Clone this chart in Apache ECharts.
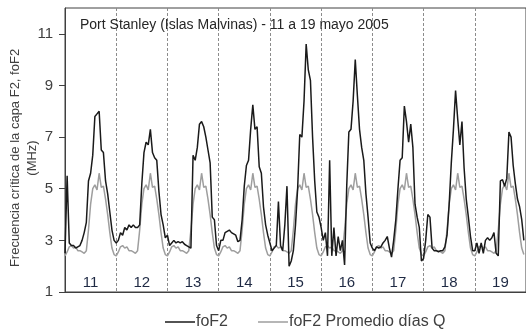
<!DOCTYPE html>
<html>
<head>
<meta charset="utf-8">
<script src="https://cdn.jsdelivr.net/npm/echarts@6/dist/echarts.min.js"></script>
<style>
  html, body { margin: 0; padding: 0; background: #fff; }
  #chart { width: 526px; height: 336px; }
</style>
</head>
<body>
<div id="chart"></div>
<script>
// dias de mayo 2005, un valor por hora (UT)
const dias = ['11', '12', '13', '14', '15', '16', '17', '18', '19']
const horasPorDia = 24
const ticksY = [1, 3, 5, 7, 9, 11]

// foF2 observada (MHz)
const foF2 = [
  2.5, 5.5, 2.9, 2.8, 2.8, 2.7, 2.75, 2.8, 3.0, 3.3, 3.7, 5.3, 5.6, 6.3, 7.8, 7.9, 8.0, 6.5, 6.4, 5.3, 4.8, 4.1, 3.4, 3.0,
  2.9, 3.0, 3.3, 3.2, 3.5, 3.4, 3.6, 3.5, 3.6, 3.5, 3.5, 3.6, 5.2, 6.4, 6.8, 6.7, 7.3, 6.4, 6.2, 6.1, 4.9, 4.0, 3.6, 3.1,
  3.2, 2.8, 2.9, 3.0, 2.9, 2.95, 2.9, 2.95, 2.85, 2.8, 2.75, 2.7, 6.3, 6.1, 6.6, 7.5, 7.6, 7.4, 7.0, 6.5, 6.0, 3.9, 3.8, 2.8,
  2.6, 3.0, 3.0, 3.3, 3.35, 3.4, 3.3, 3.25, 3.2, 2.95, 3.0, 3.8, 5.1, 5.9, 6.1, 7.3, 8.25, 7.3, 7.4, 5.85, 5.6, 4.3, 3.6, 3.2,
  2.9, 2.6, 2.7, 2.8, 4.5, 2.8, 2.6, 3.6, 5.1, 2.0, 2.2, 2.6, 3.6, 5.0, 7.1, 7.0, 8.4, 10.6, 9.6, 9.2, 7.0, 5.3, 4.1, 3.9,
  3.5, 3.0, 3.3, 2.4, 6.1, 2.4, 3.5, 2.4, 3.15, 2.6, 3.0, 2.05, 5.1, 7.2, 7.3, 8.4, 10.0, 8.6, 7.3, 6.6, 6.1, 4.8, 3.9, 2.9,
  2.7, 2.6, 2.75, 2.7, 2.75, 2.9, 3.0, 3.15, 2.7, 2.35, 3.0, 3.8, 5.0, 6.1, 6.2, 8.2, 7.6, 6.8, 7.5, 6.6, 4.4, 3.9, 3.5, 2.2,
  2.3, 3.0, 4.0, 3.9, 2.7, 2.6, 2.6, 2.55, 2.6, 2.6, 2.75, 3.2, 4.4, 6.0, 7.3, 8.8, 7.7, 6.7, 7.6, 5.8, 4.6, 3.9, 3.15, 2.6,
  2.6, 2.9, 2.5, 2.9, 2.5, 3.0, 3.1, 3.0, 3.1, 3.3, 2.5, 2.4, 5.3, 5.35, 5.1, 5.4, 7.2, 7.0, 5.9, 5.2, 4.6, 4.3, 3.8, 3.0
]

// promedio de dias quietos (mismo perfil diario)
const promedioQ = [
  2.4, 2.55, 2.75, 2.8, 2.7, 2.75, 2.6, 2.6, 2.55, 2.5, 2.6, 3.4, 4.4, 5.0, 5.15, 4.95, 5.6, 5.05, 5.1, 4.6, 4.0, 3.3, 2.7, 2.45,
  2.4, 2.55, 2.75, 2.8, 2.7, 2.75, 2.6, 2.6, 2.55, 2.5, 2.6, 3.4, 4.4, 5.0, 5.15, 4.95, 5.6, 5.05, 5.1, 4.6, 4.0, 3.3, 2.7, 2.45,
  2.4, 2.55, 2.75, 2.8, 2.7, 2.75, 2.6, 2.6, 2.55, 2.5, 2.6, 3.4, 4.4, 5.0, 5.15, 4.95, 5.6, 5.05, 5.1, 4.6, 4.0, 3.3, 2.7, 2.45,
  2.4, 2.55, 2.75, 2.8, 2.7, 2.75, 2.6, 2.6, 2.55, 2.5, 2.6, 3.4, 4.4, 5.0, 5.15, 4.95, 5.6, 5.05, 5.1, 4.6, 4.0, 3.3, 2.7, 2.45,
  2.4, 2.55, 2.75, 2.8, 2.7, 2.75, 2.6, 2.6, 2.55, 2.5, 2.6, 3.4, 4.4, 5.0, 5.15, 4.95, 5.6, 5.05, 5.1, 4.6, 4.0, 3.3, 2.7, 2.45,
  2.4, 2.55, 2.75, 2.8, 2.7, 2.75, 2.6, 2.6, 2.55, 2.5, 2.6, 3.4, 4.4, 5.0, 5.15, 4.95, 5.6, 5.05, 5.1, 4.6, 4.0, 3.3, 2.7, 2.45,
  2.4, 2.55, 2.75, 2.8, 2.7, 2.75, 2.6, 2.6, 2.55, 2.5, 2.6, 3.4, 4.4, 5.0, 5.15, 4.95, 5.6, 5.05, 5.1, 4.6, 4.0, 3.3, 2.7, 2.45,
  2.4, 2.55, 2.75, 2.8, 2.7, 2.75, 2.6, 2.6, 2.55, 2.5, 2.6, 3.4, 4.4, 5.0, 5.15, 4.95, 5.6, 5.05, 5.1, 4.6, 4.0, 3.3, 2.7, 2.45,
  2.4, 2.55, 2.75, 2.8, 2.7, 2.75, 2.6, 2.6, 2.55, 2.5, 2.6, 3.4, 4.4, 5.0, 5.15, 4.95, 5.6, 5.05, 5.1, 4.6, 4.0, 3.3, 2.7, 2.45
]

const fuente = '"Liberation Sans", Arial, sans-serif'
const chart = echarts.init(document.getElementById('chart'))

chart.setOption({
  animation: false,
  title: {
    text: 'Port Stanley (Islas Malvinas) - 11 a 19 mayo 2005',
    left: 80,
    top: 18,
    padding: 0,
    textStyle: { fontFamily: fuente, fontSize: 14, fontWeight: 'normal', color: '#262626' },
  },
  grid: { left: 65, top: 8, right: -2, bottom: 44, show: true, borderColor: '#404040', borderWidth: 1 },
  legend: {
    left: 165,
    top: 314,
    padding: 0,
    icon: 'rect',
    itemWidth: 30,
    itemHeight: 1.5,
    itemGap: 30,
    data: ['foF2', 'foF2 Promedio días Q'],
    textStyle: { fontFamily: fuente, fontSize: 16, color: '#404040', padding: [0, 0, 0, -4] },
  },
  graphic: [
    {
      type: 'text',
      x: 24,
      y: 158,
      rotation: Math.PI / 2,
      style: {
        text: 'Frecuencia crítica de la capa F2, foF2\n(MHz)',
        font: '13px ' + fuente,
        fill: '#404040',
        textAlign: 'center',
        textVerticalAlign: 'middle',
        lineHeight: 17,
      },
    },
  ],
  xAxis: [
    {
      type: 'value',
      min: 0,
      max: dias.length * horasPorDia,
      interval: horasPorDia,
      position: 'bottom',
      axisLine: { show: true, lineStyle: { color: '#404040' } },
      axisTick: { show: false },
      axisLabel: { show: false },
      splitLine: { show: true, lineStyle: { color: '#8c8c8c', type: [3, 2], width: 1 } },
    },
    {
      type: 'category',
      data: dias,
      position: 'bottom',
      axisLine: { show: false },
      axisTick: { show: false },
      splitLine: { show: false },
      axisLabel: { inside: true, margin: 2, color: '#1f2a44', fontSize: 15, fontFamily: fuente },
    },
  ],
  yAxis: {
    type: 'value',
    min: 1,
    max: 12,
    axisLine: { show: true, lineStyle: { color: '#404040' } },
    axisTick: { show: true, length: 6, customValues: ticksY, lineStyle: { color: '#404040' } },
    axisLabel: { customValues: ticksY, margin: 12, color: '#404040', fontSize: 15, fontFamily: fuente },
    splitLine: { show: false },
  },
  series: [
    {
      name: 'foF2 Promedio días Q',
      type: 'line',
      data: promedioQ.map((v, i) => [i, v]),
      symbol: 'none',
      z: 2,
      itemStyle: { color: '#9e9e9e' },
      lineStyle: { color: '#9e9e9e', width: 1.5 },
    },
    {
      name: 'foF2',
      type: 'line',
      data: foF2.map((v, i) => [i, v]),
      symbol: 'none',
      z: 3,
      itemStyle: { color: '#1a1a1a' },
      lineStyle: { color: '#1a1a1a', width: 1.5 },
    },
  ],
})
</script>
</body>
</html>
